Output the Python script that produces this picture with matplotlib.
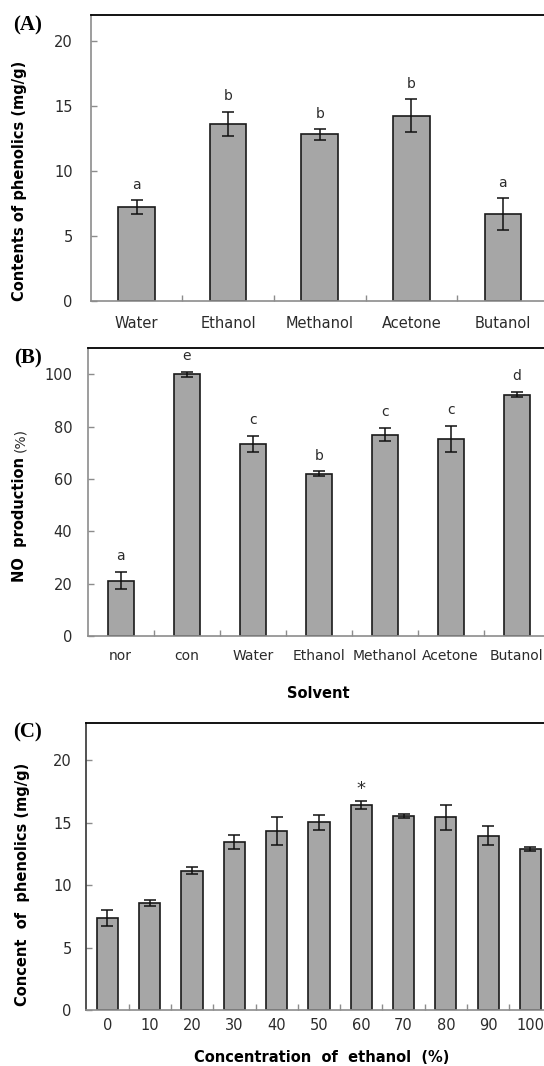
import matplotlib
matplotlib.use("Agg")
import matplotlib.pyplot as plt
import numpy as np

# (A) phenolic contents by extraction solvent
solv_a = ["Water", "Ethanol", "Methanol", "Acetone", "Butanol"]
phen_a = [7.2, 13.6, 12.8, 14.25, 6.7]
err_a = [0.53, 0.95, 0.43, 1.25, 1.23]
let_a = ["a", "b", "b", "b", "a"]

# (B) NO production
solv_b = ["nor", "con", "Water", "Ethanol", "Methanol", "Acetone", "Butanol"]
no_b = [21.1, 100.0, 73.5, 62.1, 77.0, 75.2, 92.3]
err_b = [3.3, 1.0, 3.0, 0.8, 2.5, 5.0, 1.0]
let_b = ["a", "e", "c", "b", "c", "c", "d"]

# (C) phenolics vs ethanol concentration
conc_c = ["0", "10", "20", "30", "40", "50", "60", "70", "80", "90", "100"]
phen_c = [7.37, 8.56, 11.14, 13.43, 14.34, 15.03, 16.41, 15.5, 15.43, 13.94, 12.9]
err_c = [0.65, 0.24, 0.28, 0.55, 1.14, 0.6, 0.32, 0.16, 1.0, 0.76, 0.16]
star_c = ["", "", "", "", "", "", "*", "", "", "", ""]

BAR = "#a6a6a6"
AX_GREY = "#8c8c8c"
TXT = "#2b2b2b"
H = 1066.0


def panel(ax, labels, vals, errs, marks, width, ymax, step, ypad, xpad,
          xfs, mark_fs, mark_off, left_col=AX_GREY):
    x = np.arange(len(labels))
    ax.bar(x, vals, width=width, color=BAR, edgecolor="#1a1a1a", linewidth=1.2,
           yerr=errs, capsize=4.5, error_kw=dict(elinewidth=1.1, capthick=1.1, ecolor="#111111"))
    for xi, v, e, m in zip(x, vals, errs, marks):
        if m:
            ax.annotate(m, (xi, v + e), xytext=(0, mark_off), textcoords="offset points",
                        ha="center", va="center", fontsize=mark_fs, color=TXT)
    ax.set_xlim(-0.5, len(labels) - 0.5)
    ax.set_ylim(0, ymax)
    ax.set_yticks(np.arange(0, ymax + 0.01, step))
    ax.set_xticks(x)
    ax.set_xticklabels(labels)
    ax.set_xticks(x[:-1] + 0.5, minor=True)
    ax.tick_params(axis="y", direction="in", length=4.5, width=1, color=AX_GREY,
                   pad=ypad, labelsize=10.5, labelcolor=TXT)
    ax.tick_params(axis="x", which="major", length=0, pad=xpad, labelsize=xfs, labelcolor=TXT)
    ax.tick_params(axis="x", which="minor", direction="in", length=4, width=1, color=AX_GREY)
    ax.spines["right"].set_visible(False)
    ax.spines["top"].set_color("black")
    ax.spines["top"].set_linewidth(1.3)
    ax.spines["left"].set_color(left_col)
    ax.spines["bottom"].set_color(AX_GREY)
    ax.spines["left"].set_linewidth(1.2)
    ax.spines["bottom"].set_linewidth(1.2)


fig = plt.figure(figsize=(5.44, 10.66), dpi=100)

ax_a = fig.add_axes([90.7 / 544, 1 - 301 / H, 458 / 544, (301 - 14.7) / H])
panel(ax_a, solv_a, phen_a, err_a, let_a, 0.4, 22, 5, 13, 11, 10.5, 10, 11)

ax_b = fig.add_axes([87.7 / 544, 1 - 636 / H, 462 / 544, (636 - 348.3) / H])
panel(ax_b, solv_b, no_b, err_b, let_b, 0.4, 110, 20, 11, 9, 10, 10, 11.5)

ax_c = fig.add_axes([86.3 / 544, 1 - 1010 / H, 465.3 / 544, (1010 - 722.7) / H])
panel(ax_c, conc_c, phen_c, err_c, star_c, 0.5, 23, 5, 10.5, 6, 10.5, 13, 9,
      left_col="#333333")

# panel tags
for tag, y in [("(A)", 25), ("(B)", 358), ("(C)", 732)]:
    fig.text(28 / 544, 1 - y / H, tag, ha="center", va="center", fontsize=15,
             fontweight="bold", family="Liberation Serif")

# axis titles
fig.text(20 / 544, 1 - 181 / H, "Contents of phenolics (mg/g)", rotation=90,
         ha="center", va="center", fontsize=10.5, fontweight="bold")
fig.text(20 / 544, 1 - 519 / H, "NO  production", rotation=90,
         ha="center", va="center", fontsize=10.5, fontweight="bold")
fig.text(20 / 544, 1 - 440 / H, "(%)", rotation=90,
         ha="center", va="center", fontsize=10, color=TXT)
fig.text(318 / 544, 1 - 693 / H, "Solvent", ha="center", va="center",
         fontsize=10.5, fontweight="bold")
fig.text(23 / 544, 1 - 884 / H, "Concent  of  phenolics (mg/g)", rotation=90,
         ha="center", va="center", fontsize=10.5, fontweight="bold")
fig.text(322 / 544, 1 - 1058 / H, "Concentration  of  ethanol  (%)", ha="center",
         va="center", fontsize=10.5, fontweight="bold")

fig.savefig("out.png", dpi=100)
plt.close(fig)
